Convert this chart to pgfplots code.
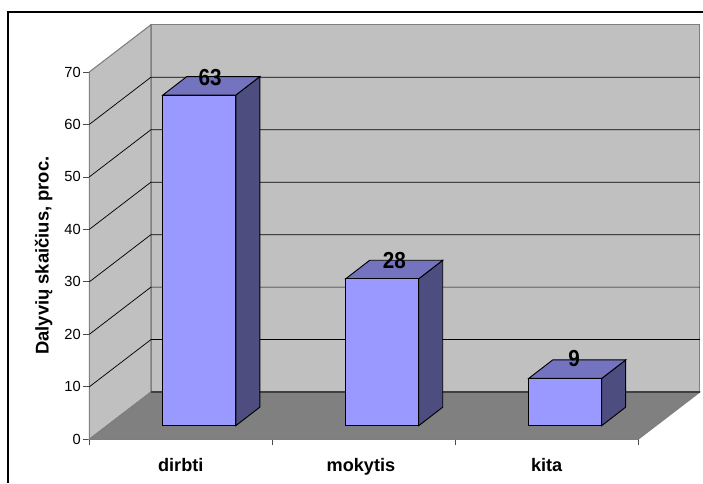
\documentclass[border=0pt]{standalone}
\usepackage{pgfplots}
\pgfplotsset{compat=1.18}
\usepackage{fontspec}
\setmainfont{Liberation Sans}
\definecolor{wall}{HTML}{C0C0C0}
\definecolor{floorc}{HTML}{808080}
\definecolor{edge}{HTML}{7F7F7F}
\definecolor{barfront}{HTML}{9999FF}
\definecolor{bartop}{HTML}{7373BF}
\definecolor{barside}{HTML}{4D4D80}
% 1 reference pixel = 0.75pt
\begin{document}
\begin{tikzpicture}[x=0.75pt,y=0.75pt]
\useasboundingbox (0,0) rectangle (703,483);
\draw[black,line width=0.8pt] (8,0) -- (8,471) -- (703,471);
\begin{axis}[
  at={(66.975pt,32.775pt)},
  anchor=south west,
  scale only axis,
  width=411.6pt,
  height=275.5pt,
  xmin=0, xmax=3,
  ymin=0, ymax=70,
  clip=false,
  axis x line*=bottom,
  axis y line*=left,
  axis line style={black,line width=0.6pt,-},
  xtick={0,1,2,3},
  xticklabels={},
  extra x ticks={0.5,1.485,2.5},
  extra x tick labels={dirbti,mokytis,kita},
  extra x tick style={tick style={draw=none},
    tick label style={font=\bfseries\fontsize{13.6}{13.6}\selectfont,yshift=-6pt}},
  ytick={0,10,...,70},
  tick align=outside,
  tick style={black!70,line width=0.6pt},
  major tick length=4.5pt,
  tick label style={font=\fontsize{11}{11}\selectfont},
  yticklabel style={xshift=1.6pt},
  /pgf/number format/assume math mode=true,
  ylabel={Dalyvių skaičius, proc.},
  ylabel style={font=\bfseries\fontsize{13.8}{13.8}\selectfont,yshift=2.2pt},
]
% back wall, side wall, floor
\addplot[fill=wall,draw=edge,line width=1pt] coordinates {(0.337,9) (3.337,9) (3.337,79) (0.337,79)} -- cycle;
\addplot[fill=wall,draw=edge,line width=0.8pt] coordinates {(0,0) (0.337,9) (0.337,79) (0,70)} -- cycle;
\addplot[fill=floorc,draw=edge,line width=0.8pt] coordinates {(0,0) (3,0) (3.337,9) (0.337,9)} -- cycle;
\addplot[black!75,line width=0.9pt] coordinates {(0.337,9) (3.337,9)};
% gridlines
\addplot[black,line width=0.55pt] coordinates {(0,10) (0.337,19) (3.337,19)};
\addplot[black,line width=0.55pt] coordinates {(0,20) (0.337,29) (3.337,29)};
\addplot[black,line width=0.55pt] coordinates {(0,30) (0.337,39) (3.337,39)};
\addplot[black,line width=0.55pt] coordinates {(0,40) (0.337,49) (3.337,49)};
\addplot[black,line width=0.55pt] coordinates {(0,50) (0.337,59) (3.337,59)};
\addplot[black,line width=0.55pt] coordinates {(0,60) (0.337,69) (3.337,69)};
% dirbti 63
\addplot[fill=barside,draw=black,line width=0.7pt] coordinates {(0.801,2.6) (0.932,6.12) (0.932,69.12) (0.801,65.6)} -- cycle;
\addplot[fill=bartop,draw=black,line width=0.7pt] coordinates {(0.402,65.6) (0.801,65.6) (0.932,69.12) (0.533,69.12)} -- cycle;
\addplot[fill=barfront,draw=black,line width=0.7pt] coordinates {(0.402,2.6) (0.801,2.6) (0.801,65.6) (0.402,65.6)} -- cycle;
% mokytis 28
\addplot[fill=barside,draw=black,line width=0.7pt] coordinates {(1.801,2.6) (1.932,6.12) (1.932,34.12) (1.801,30.6)} -- cycle;
\addplot[fill=bartop,draw=black,line width=0.7pt] coordinates {(1.402,30.6) (1.801,30.6) (1.932,34.12) (1.533,34.12)} -- cycle;
\addplot[fill=barfront,draw=black,line width=0.7pt] coordinates {(1.402,2.6) (1.801,2.6) (1.801,30.6) (1.402,30.6)} -- cycle;
% kita 9
\addplot[fill=barside,draw=black,line width=0.7pt] coordinates {(2.801,2.6) (2.932,6.12) (2.932,15.12) (2.801,11.6)} -- cycle;
\addplot[fill=bartop,draw=black,line width=0.7pt] coordinates {(2.402,11.6) (2.801,11.6) (2.932,15.12) (2.533,15.12)} -- cycle;
\addplot[fill=barfront,draw=black,line width=0.7pt] coordinates {(2.402,2.6) (2.801,2.6) (2.801,11.6) (2.402,11.6)} -- cycle;
% value labels
\addplot[only marks,mark=none,nodes near coords,point meta=explicit symbolic,
  every node near coord/.style={font=\bfseries\fontsize{15.5}{15.5}\selectfont,anchor=center,inner sep=0pt,yscale=1.12}]
  coordinates {(0.66,69.0)[63] (1.667,34.15)[28] (2.65,15.3)[9]};
\end{axis}
\end{tikzpicture}
\end{document}
